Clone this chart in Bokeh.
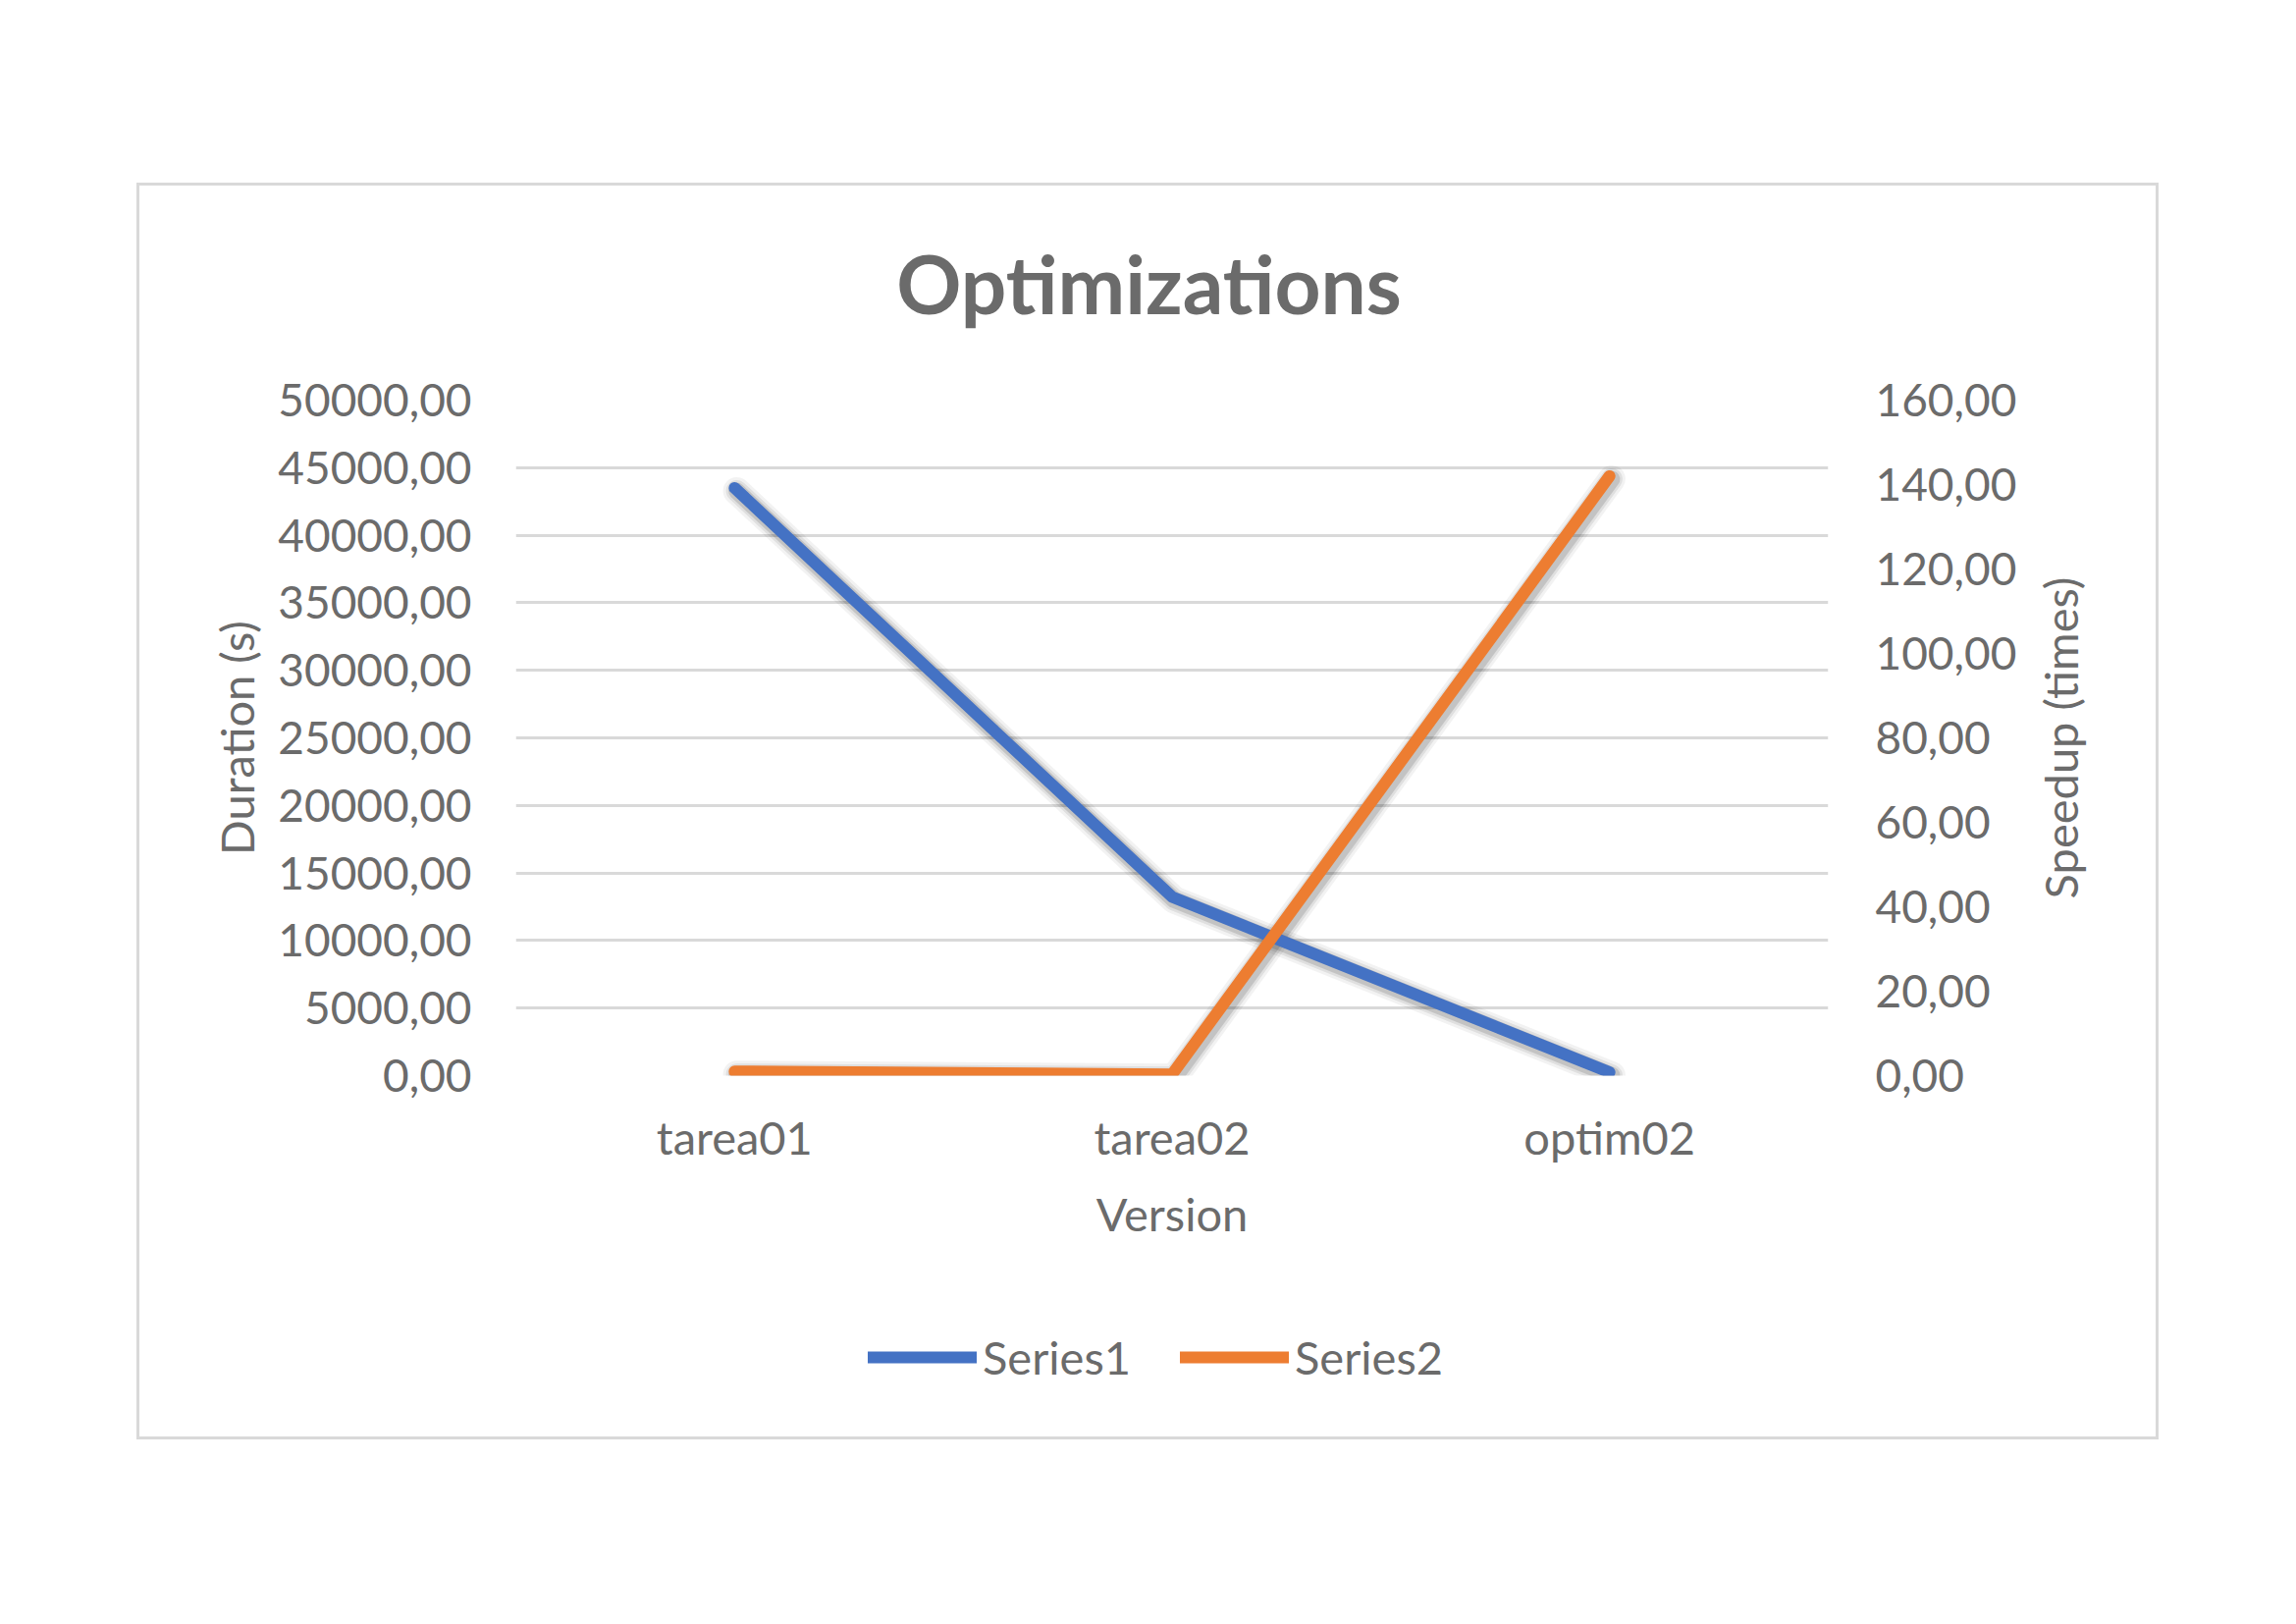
import math
from bokeh.plotting import figure
from bokeh.layouts import column
from bokeh.models import (ColumnDataSource, FactorRange, Range1d, LinearAxis, FixedTicker,
                          CustomJSTickFormatter, Legend, LegendItem, Label)
from bokeh.transform import dodge
from bokeh.embed import file_html
from bokeh.resources import INLINE

# ---- data ----
versions = ["tarea01", "tarea02", "optim02"]
duration_s = [43500.0, 13230.0, 250.0]          # Series1, left axis
speedup_times = [1.0, 0.3, 142.0]               # Series2, right axis
series_names = ["Series1", "Series2"]
left_ticks = [0, 5000, 10000, 15000, 20000, 25000, 30000, 35000, 40000, 45000, 50000]
right_ticks = [0, 20, 40, 60, 80, 100, 120, 140, 160]

BLUE = "#4472C4"
ORANGE = "#ED7D31"
TXT = "#6B6B6B"
GRID = "#D9D9D9"
FONT = "Lato"
W = 2054
TOP_H, MAIN_H, LEG_H = 151, 990, 133

src = ColumnDataSource(dict(v=versions, d=duration_s, s=speedup_times))


def strip(height, x_range, y_range):
    f = figure(width=W, height=height, x_range=x_range, y_range=y_range,
               x_axis_type=None, y_axis_type=None, output_backend="svg",
               toolbar_location=None, min_border=0)
    f.outline_line_color = None
    f.background_fill_color = "white"
    f.border_fill_color = "white"
    f.grid.visible = False
    return f


# ---- title strip ----
top = strip(TOP_H, Range1d(0, 1), Range1d(0, 1))
top.add_layout(Label(x=645, y=53, x_units="screen", y_units="screen", text="Optimizations",
                     text_align="center", text_baseline="alphabetic", text_font=FONT,
                     text_font_size="82px", text_font_style="bold", text_color=TXT))

# ---- main chart ----
p = figure(width=W, height=MAIN_H, x_range=FactorRange(*versions, range_padding=0),
           y_range=Range1d(0, 50000), output_backend="svg", toolbar_location=None,
           min_border_left=383, min_border_right=334, min_border_top=67, min_border_bottom=235)
p.outline_line_color = None
p.background_fill_color = "white"
p.border_fill_color = "white"

# main ranges + slightly shifted copies used only for the soft drop shadow
p.extra_y_ranges = {"speed": Range1d(0, 160),
                    "dur_sh": Range1d(220, 50220),
                    "speed_sh": Range1d(0.7, 160.7)}

fmt = CustomJSTickFormatter(code="return tick.toFixed(2).replace('.', ',');")

ya = p.yaxis[0]
ya.ticker = FixedTicker(ticks=left_ticks)
ya.formatter = fmt
ya.axis_label = "Duration (s)"

ra = LinearAxis(y_range_name="speed", ticker=FixedTicker(ticks=right_ticks), formatter=fmt)
p.add_layout(ra, "right")

xa = p.xaxis[0]
xa.axis_label = "Version"

for ax in [ya, ra, xa]:
    ax.axis_line_color = None
    ax.major_tick_line_color = None
    ax.minor_tick_line_color = None
    ax.major_label_text_font = FONT
    ax.major_label_text_font_size = "46px"
    ax.major_label_text_color = TXT
    ax.axis_label_text_font = FONT
    ax.axis_label_text_font_size = "47px"
    ax.axis_label_text_color = TXT
    ax.axis_label_text_font_style = "normal"

xa.major_label_text_font_size = "47px"

ya.major_label_standoff = 39
ya.axis_label_standoff = 11
ra.major_label_standoff = 42
xa.major_label_standoff = 28
xa.axis_label_standoff = 19

# right axis title, reading bottom-to-top like Excel's
p.add_layout(Label(x=41, y=344, x_units="screen", y_units="screen",
                   text="Speedup (times)", angle=math.pi / 2, text_align="center",
                   text_baseline="middle", text_font=FONT, text_font_size="47px",
                   text_color=TXT), "right")

p.xgrid.grid_line_color = None
p.ygrid.grid_line_color = GRID
p.ygrid.grid_line_width = 3
p.ygrid.ticker = FixedTicker(ticks=left_ticks)

# soft blurred drop shadows (layered translucent strokes)
sx = dodge("v", 0.005, range=p.x_range)
for w_sh, a_sh in [(28, 0.05), (22, 0.08), (17, 0.12)]:
    p.line(sx, "d", source=src, y_range_name="dur_sh", line_color="black", line_alpha=a_sh,
           line_width=w_sh, line_cap="round", line_join="round")
    p.line(sx, "s", source=src, y_range_name="speed_sh", line_color="black", line_alpha=a_sh,
           line_width=w_sh, line_cap="round", line_join="round")

p.line("v", "d", source=src, line_color=BLUE, line_width=12,
       line_cap="round", line_join="round")
p.line("v", "s", source=src, y_range_name="speed", line_color=ORANGE, line_width=12,
       line_cap="round", line_join="round")

# ---- legend strip ----
# the strip's own copies of the lines sit outside its y range, so only the legend shows
leg = strip(LEG_H, FactorRange(*versions), Range1d(-2, -1))
l1 = leg.line("v", "d", source=src, line_color=BLUE, line_width=12, line_cap="round")
l2 = leg.line("v", "s", source=src, line_color=ORANGE, line_width=12, line_cap="round")
legend = Legend(items=[LegendItem(label=series_names[0], renderers=[l1]),
                       LegendItem(label=series_names[1], renderers=[l2])],
                location=(359, 53), orientation="horizontal",
                glyph_width=111, glyph_height=40, label_standoff=6, spacing=50,
                padding=0, margin=0, border_line_color=None, background_fill_alpha=0,
                label_text_font=FONT, label_text_font_size="47px", label_text_color=TXT)
leg.add_layout(legend, "center")

layout = column(top, p, leg, spacing=0)
layout.margin = (189, 0, 0, 142)
layout.styles = {"outline": "3px solid #D9D9D9"}

open("out.html", "w").write(file_html(layout, INLINE))
